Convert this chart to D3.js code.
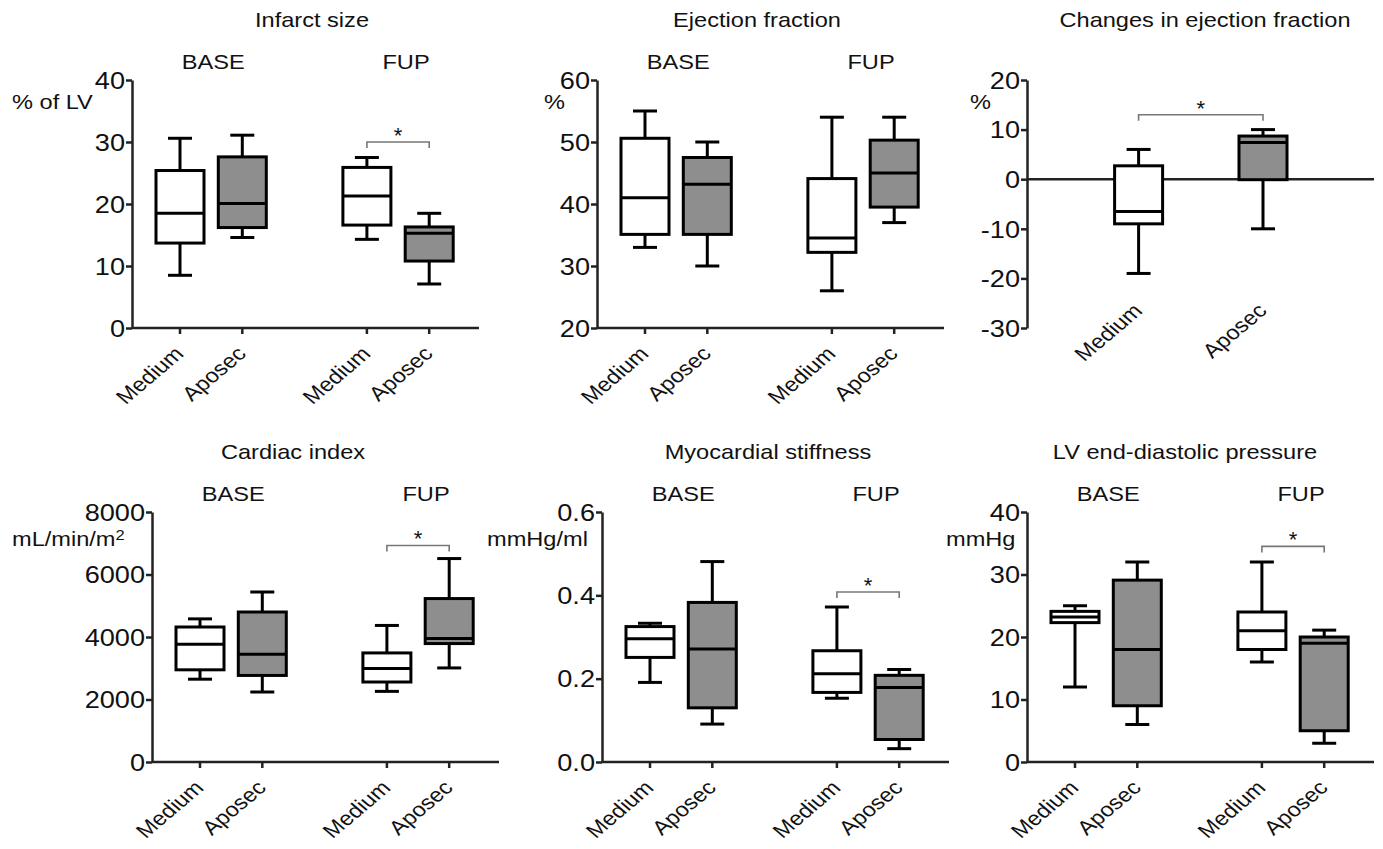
<!DOCTYPE html>
<html lang="en">
<head>
<meta charset="UTF-8">
<script src="https://d3js.org/d3.v7.min.js"></script>
<style>
    body { margin: 0; background: #fff; }
    svg { display: block; }
    text { font-family: Arial, "Liberation Sans", Helvetica, sans-serif; fill: #111; }
    .box { stroke: #000; stroke-width: 3px; }
    .whisker { stroke: #000; stroke-width: 3px; fill: none; }
    .axis-line { stroke: #222; stroke-width: 2.5px; fill: none; }
    .bracket { stroke: #777; stroke-width: 1.6px; fill: none; }
</style>
</head>
<body>
<svg id="chart" width="1383" height="849"></svg>
<script>
// ---- data: [min, q1, median, q3, max] per box ----
const categories = ["Medium", "Aposec", "Medium", "Aposec"];
const groups = ["BASE", "FUP"];
const changeCategories = ["Medium", "Aposec"];

const infarctSize = [[8.5, 13.7, 18.5, 25.4, 30.6], [14.6, 16.2, 20.1, 27.6, 31.1],
                     [14.3, 16.6, 21.3, 25.9, 27.5], [7.1, 10.8, 15.3, 16.3, 18.5]];
const ejectionFraction = [[33, 35.1, 41, 50.6, 55], [30, 35.1, 43.2, 47.5, 50],
                          [26, 32.2, 34.5, 44.1, 54], [37, 39.5, 45, 50.3, 54]];
const changesEF = [[-19, -9, -6.5, 2.7, 6], [-10, -0.1, 7.4, 8.7, 10]];
const cardiacIndex = [[2650, 2950, 3770, 4320, 4580], [2240, 2770, 3450, 4800, 5440],
                      [2260, 2560, 2990, 3490, 4370], [3010, 3790, 3950, 5230, 6510]];
const stiffness = [[0.191, 0.251, 0.296, 0.325, 0.333], [0.091, 0.130, 0.271, 0.383, 0.481],
                   [0.153, 0.167, 0.212, 0.267, 0.372], [0.032, 0.054, 0.179, 0.208, 0.222]];
const lvedp = [[12, 22.3, 23.2, 24.1, 25], [6, 9, 18, 29.1, 32],
               [16, 18, 21, 24, 32], [3, 5, 19, 20, 21.1]];

const infarctTicks = [0, 10, 20, 30, 40];
const efTicks = [20, 30, 40, 50, 60];
const changeTicks = [-30, -20, -10, 0, 10, 20];
const ciTicks = [0, 2000, 4000, 6000, 8000];
const stiffTicks = [0, 0.2, 0.4, 0.6];
const lvedpTicks = [0, 10, 20, 30, 40];

// significance brackets: [boxA, boxB, value]
const infarctSig = [2, 3, 30];
const changeSig = [0, 1, 13];
const ciSig = [2, 3, 6930];
const stiffSig = [2, 3, 0.408];
const lvedpSig = [2, 3, 34.5];

// ---- layout ----
const svg = d3.select("#chart");
const SX = 1.18;   // the figure is a bit wider than tall, text is stretched too
const boxW = 48, capW = 24;
const fills = ["#fff", "#8e8e8e", "#fff", "#8e8e8e"];
const intFmt = d => String(d);                 // plain hyphen for negatives
const decFmt = d => d3.format(".1f")(d);

const panels = [
  {title: "Infarct size", unit: "% of LV", stats: infarctSize, ticks: infarctTicks, fmt: intFmt,
   sig: infarctSig, ax: 132, top: 80, bot: 328, titleX: 312, unitX: 12, row: 0},
  {title: "Ejection fraction", unit: "%", stats: ejectionFraction, ticks: efTicks, fmt: intFmt,
   sig: null, ax: 597, top: 80, bot: 328, titleX: 757, unitX: 544, row: 0},
  {title: "Changes in ejection fraction", unit: "%", stats: changesEF, ticks: changeTicks, fmt: intFmt,
   sig: changeSig, ax: 1027, top: 80, bot: 328, titleX: 1205, unitX: 970, row: 0, change: true},
  {title: "Cardiac index", unit: "mL/min/m", sup: "2", stats: cardiacIndex, ticks: ciTicks, fmt: intFmt,
   sig: ciSig, ax: 152, top: 512, bot: 762, titleX: 293, unitX: 12, row: 1},
  {title: "Myocardial stiffness", unit: "mmHg/ml", stats: stiffness, ticks: stiffTicks, fmt: decFmt,
   sig: stiffSig, ax: 602, top: 512, bot: 762, titleX: 768, unitX: 487, row: 1},
  {title: "LV end-diastolic pressure", unit: "mmHg", stats: lvedp, ticks: lvedpTicks, fmt: intFmt,
   sig: lvedpSig, ax: 1027, top: 512, bot: 762, titleX: 1185, unitX: 946, row: 1}
];

function stretchText(g, x, y, str, size, anchor, extra) {
  return g.append("text")
    .attr("transform", `translate(${x},${y}) scale(${SX},1)` + (extra || ""))
    .attr("text-anchor", anchor)
    .style("font-size", size + "px")
    .text(str);
}

panels.forEach(p => {
  const g = svg.append("g");
  const rowOff = p.row * 432;
  const y = d3.scaleLinear().domain(d3.extent(p.ticks)).range([p.bot, p.top]);
  // slot positions: two groups of two with a one-slot gap
  const slots = p.change ? [0, 2] : [0, 1, 3, 4];
  const x = p.change
    ? d3.scaleLinear().domain([0, 2]).range([p.ax + 111.6, p.ax + 111.6 + 124.4])
    : d3.scaleLinear().domain([0, 4]).range([p.ax + 48, p.ax + 48 + 4 * 62.3]);
  const labels = p.change ? changeCategories : categories;
  const xEnd = p.ax + 347;

  // title
  stretchText(g, p.titleX, 27 + rowOff, p.title, 20, "middle");
  // group labels
  if (!p.change) {
    stretchText(g, x(0.5) + 2, 69 + rowOff, groups[0], 20, "middle");
    stretchText(g, x(3.5) + 8, 69 + rowOff, groups[1], 20, "middle");
  }
  // unit
  const u = stretchText(g, p.unitX, 109 + rowOff + (p.row ? 5 : 0), p.unit, 20, "start");
  if (p.sup) u.append("tspan").attr("dy", "-0.45em").style("font-size", "14px").text(p.sup);

  // y axis
  const yAxis = g.append("g").attr("transform", `translate(${p.ax},0)`)
    .call(d3.axisLeft(y).tickValues(p.ticks).tickFormat(p.fmt).tickSize(6).tickSizeOuter(0).tickPadding(3));
  yAxis.select(".domain").attr("class", "axis-line");
  yAxis.selectAll(".tick line").attr("stroke", "#222").attr("stroke-width", 2.5);
  yAxis.selectAll(".tick text")
    .attr("x", null).attr("dy", "0.36em")
    .attr("transform", `translate(-7,0) scale(${SX},1)`)
    .style("font-size", "23px").style("fill", "#111");

  // x axis (zero line in the change panel)
  const baseY = p.change ? y(0) : p.bot;
  g.append("line").attr("class", "axis-line")
    .attr("x1", p.ax).attr("x2", xEnd).attr("y1", baseY).attr("y2", baseY)
    .attr("stroke-width", p.change ? 2 : 2.5);
  if (!p.change) {
    g.selectAll("line.xtick").data(slots).join("line")
      .attr("class", "axis-line")
      .attr("x1", d => x(d)).attr("x2", d => x(d))
      .attr("y1", p.bot).attr("y2", p.bot + 6);
  }
  const labY = p.change ? 312 : p.bot + 27;
  slots.forEach((s, i) => {
    stretchText(g, x(s) + 5, labY, labels[i], 20, "end", " rotate(-45)");
  });

  // boxes
  p.stats.forEach((d, i) => {
    const cx = x(slots[i]);
    const [mn, q1, md, q3, mx] = d;
    g.append("line").attr("class", "whisker")
      .attr("x1", cx).attr("x2", cx).attr("y1", y(mx)).attr("y2", y(q3));
    g.append("line").attr("class", "whisker")
      .attr("x1", cx).attr("x2", cx).attr("y1", y(q1)).attr("y2", y(mn));
    g.append("line").attr("class", "whisker")
      .attr("x1", cx - capW / 2).attr("x2", cx + capW / 2).attr("y1", y(mx)).attr("y2", y(mx));
    g.append("line").attr("class", "whisker")
      .attr("x1", cx - capW / 2).attr("x2", cx + capW / 2).attr("y1", y(mn)).attr("y2", y(mn));
    g.append("rect").attr("class", "box")
      .attr("x", cx - boxW / 2).attr("width", boxW)
      .attr("y", y(q3)).attr("height", y(q1) - y(q3))
      .attr("fill", fills[p.change ? i : i]);
    g.append("line").attr("class", "whisker")
      .attr("x1", cx - boxW / 2).attr("x2", cx + boxW / 2).attr("y1", y(md)).attr("y2", y(md));
  });

  // significance bracket
  if (p.sig) {
    const xa = x(slots[p.sig[0]]), xb = x(slots[p.sig[1]]), yb = y(p.sig[2]);
    g.append("path").attr("class", "bracket")
      .attr("d", `M${xa},${yb + 6}V${yb}H${xb}V${yb + 6}`);
    g.append("text").attr("x", (xa + xb) / 2).attr("y", yb + 1)
      .attr("text-anchor", "middle").style("font-size", "22px").text("*");
  }
});
</script>
</body>
</html>
